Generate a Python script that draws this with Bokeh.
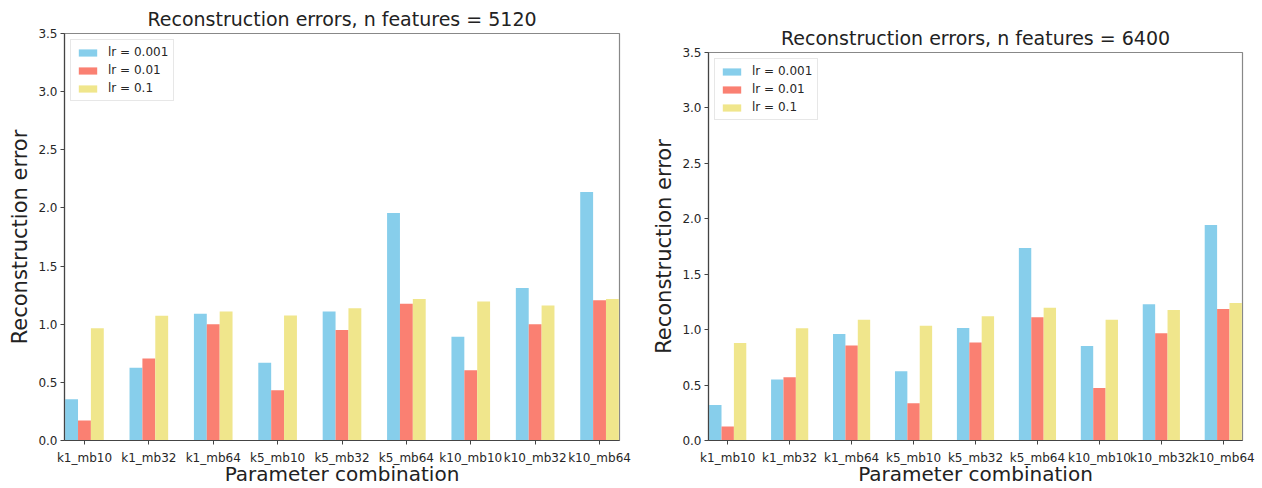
from bokeh.plotting import figure
from bokeh.layouts import row, column
from bokeh.models import (ColumnDataSource, FixedTicker, PrintfTickFormatter, Range1d,
                          Legend, LegendItem, Label, Spacer)
from bokeh.transform import dodge
from bokeh.embed import file_html
from bokeh.resources import INLINE

# ---- data (values in units of 1e6) ----
categories = ["k1_mb10", "k1_mb32", "k1_mb64", "k5_mb10", "k5_mb32",
              "k5_mb64", "k10_mb10", "k10_mb32", "k10_mb64"]
series_names = ["lr = 0.001", "lr = 0.01", "lr = 0.1"]

err_5120_lr0001 = [0.354, 0.625, 1.089, 0.669, 1.110, 1.957, 0.893, 1.311, 2.137]
err_5120_lr001 = [0.173, 0.706, 1.000, 0.432, 0.951, 1.176, 0.605, 1.000, 1.207]
err_5120_lr01 = [0.965, 1.072, 1.110, 1.075, 1.138, 1.216, 1.196, 1.161, 1.216]

err_6400_lr0001 = [0.321, 0.550, 0.961, 0.625, 1.015, 1.736, 0.853, 1.228, 1.944]
err_6400_lr001 = [0.126, 0.571, 0.856, 0.336, 0.883, 1.111, 0.474, 0.967, 1.186]
err_6400_lr01 = [0.880, 1.012, 1.090, 1.036, 1.120, 1.198, 1.090, 1.177, 1.240]

y_ticks = [0.0, 0.5, 1.0, 1.5, 2.0, 2.5, 3.0, 3.5]
colors = ["#87CEEB", "#FA8072", "#F0E68C"]
FONT = "DejaVu Sans"


def make_chart(title, s1, s2, s3, width, height, bl, br, bt, bb):
    positions = list(range(len(categories)))
    src = ColumnDataSource(dict(x=positions, a=s1, b=s2, c=s3))
    p = figure(width=width, height=height, output_backend="svg", toolbar_location=None,
               x_range=Range1d(-0.31, len(categories) - 1 + 0.31),
               y_range=Range1d(0, 3.5),
               min_border_left=bl, min_border_right=br,
               min_border_top=bt, min_border_bottom=bb)
    p.title.text = title
    p.title.align = "center"
    p.title.text_font = FONT
    p.title.text_font_size = "19px"
    p.title.text_font_style = "normal"
    p.title.text_color = "#222222"
    p.title.standoff = 8

    r1 = p.vbar(x=dodge("x", -0.2), top="a", width=0.2, source=src,
                fill_color=colors[0], line_color=None)
    r2 = p.vbar(x=dodge("x", 0.0), top="b", width=0.2, source=src,
                fill_color=colors[1], line_color=None)
    r3 = p.vbar(x=dodge("x", 0.2), top="c", width=0.2, source=src,
                fill_color=colors[2], line_color=None)

    p.xaxis.ticker = FixedTicker(ticks=positions)
    p.xaxis.major_label_overrides = {i: c for i, c in enumerate(categories)}
    p.yaxis.ticker = FixedTicker(ticks=y_ticks)
    p.yaxis.formatter = PrintfTickFormatter(format="%.1f")

    for ax in (p.xaxis[0], p.yaxis[0]):
        ax.minor_tick_line_color = None
        ax.major_tick_in = 0
        ax.major_tick_out = 4
        ax.major_tick_line_color = "#444444"
        ax.axis_line_color = "#444444"
        ax.axis_line_width = 1.2
        ax.major_label_text_font = FONT
        ax.major_label_text_font_size = "12px"
        ax.major_label_text_color = "#262626"
        ax.axis_label_text_font = FONT
        ax.axis_label_text_font_style = "normal"
        ax.axis_label_text_color = "#222222"
    p.xaxis.major_label_standoff = 6
    p.xaxis.axis_label = "Parameter combination"
    p.xaxis.axis_label_text_font_size = "20px"
    p.xaxis.axis_label_standoff = -6
    p.yaxis.major_label_standoff = 3
    p.yaxis.axis_label = "Reconstruction error"
    p.yaxis.axis_label_text_font_size = "21px"
    p.yaxis.axis_label_standoff = 3

    p.xgrid.grid_line_color = None
    p.ygrid.grid_line_color = None
    p.outline_line_color = "#888888"
    p.outline_line_width = 1.2
    p.background_fill_color = "white"
    p.border_fill_color = "white"

    legend = Legend(items=[LegendItem(label=series_names[0], renderers=[r1]),
                           LegendItem(label=series_names[1], renderers=[r2]),
                           LegendItem(label=series_names[2], renderers=[r3])],
                    location="top_left")
    legend.label_text_font = FONT
    legend.label_text_font_size = "12px"
    legend.label_text_color = "#262626"
    legend.glyph_width = 23
    legend.glyph_height = 9
    legend.label_height = 14
    legend.label_standoff = 9
    legend.spacing = 4
    legend.padding = 5
    legend.margin = 6
    legend.border_line_color = "#d0d0d0"
    legend.background_fill_alpha = 0.9
    p.add_layout(legend)

    p.add_layout(Label(x=-0.31, y=3.5, text="1e6", x_offset=2, y_offset=1,
                       text_font=FONT, text_font_size="10px", text_color="#333333",
                       text_align="left", text_baseline="bottom"))
    return p


p1 = make_chart("Reconstruction errors, n features = 5120",
                err_5120_lr0001, err_5120_lr001, err_5120_lr01,
                width=640, height=488, bl=64, br=21, bt=33, bb=48)
p2 = make_chart("Reconstruction errors, n features = 6400",
                err_6400_lr0001, err_6400_lr001, err_6400_lr01,
                width=622, height=470, bl=68, br=20, bt=34, bb=48)

layout = row(p1, column(Spacer(width=622, height=18), p2))
open("out.html", "w").write(file_html(layout, INLINE))
